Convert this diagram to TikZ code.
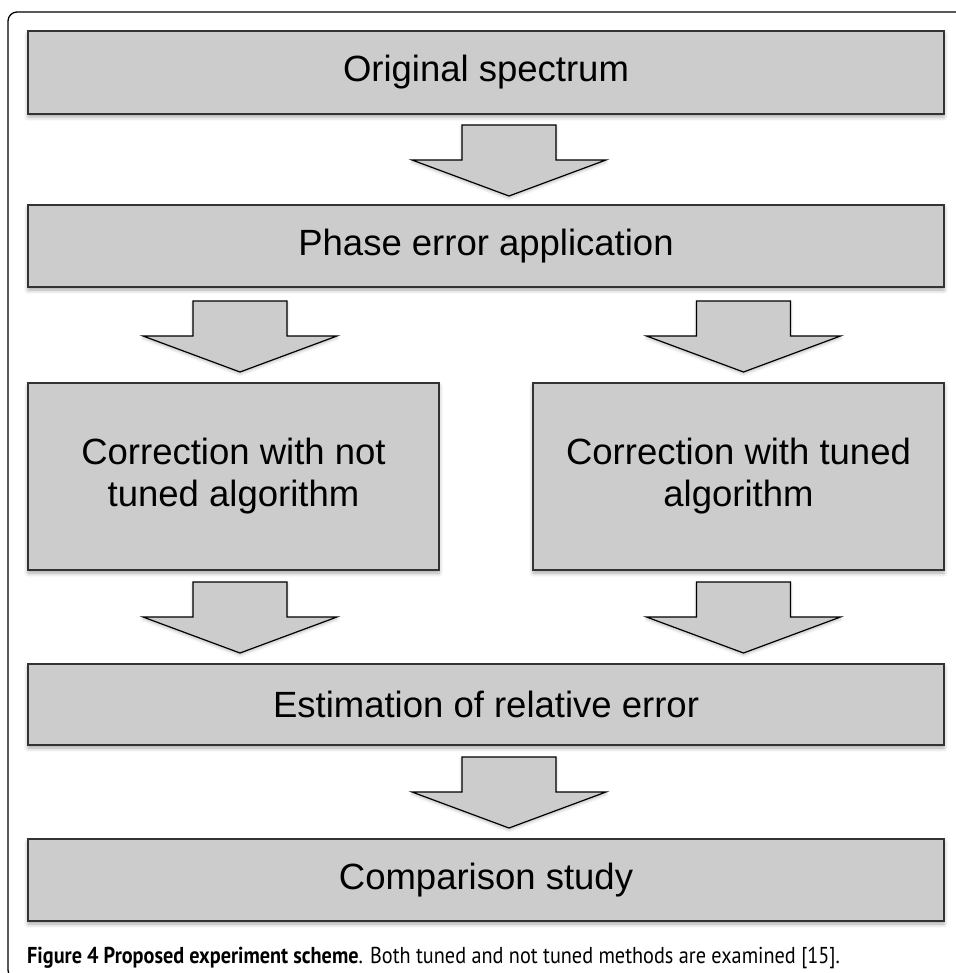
\documentclass[tikz,border=0pt]{standalone}
\usepackage{fontspec}
\setmainfont{Liberation Sans}
\newfontfamily\capfont[FakeStretch=0.88]{PT Sans}
\usetikzlibrary{shadows.blur}
\begin{document}
\begin{tikzpicture}[x=1pt,y=-1pt,
    stage/.style={draw=black!80,line width=1.8pt,fill=black!20,inner sep=0pt,align=center,
        font=\fontsize{36.5}{42}\selectfont,
        blur shadow={shadow xshift=0pt,shadow yshift=-3pt,shadow blur radius=4pt,shadow opacity=35}},
    wide/.style={stage,minimum width=916pt,minimum height=82pt},
    half/.style={stage,minimum width=411pt,minimum height=187pt},
    blockarrow/.style={draw=black,line width=1.2pt,fill=black!20,line join=miter,
        blur shadow={shadow xshift=0pt,shadow yshift=-2pt,shadow blur radius=3pt,shadow opacity=25}},
    pics/down/.style={code={
        \draw[blockarrow] (-47,0) -- (47,0) -- (47,35) -- (97,35) -- (0,71)
            -- (-97,35) -- (-47,35) -- cycle;}}]
    \useasboundingbox (0,0) rectangle (955,973);
    \draw[line width=1.3pt,rounded corners=9pt] (8,12) rectangle (975,979);
    \node[wide,minimum height=83pt] (B_0) at (486,72.5) {Original spectrum};
    \node[wide] (B_1) at (486,246) {Phase error application};
    \node[half] (B_2) at (233.5,476.5) {Correction with not\\tuned algorithm};
    \node[half] (B_3) at (738.5,476.5) {Correction with tuned\\algorithm};
    \node[wide,minimum height=81pt] (B_4) at (486,704.5) {Estimation of relative error};
    \node[wide] (B_5) at (486,880) {Comparison study};
    \pic (A_0) at (509,125) {down};
    \pic (A_1) at (240,301) {down};
    \pic (A_2) at (743.5,301) {down};
    \pic (A_3) at (240,582) {down};
    \pic (A_4) at (743.5,582) {down};
    \pic (A_5) at (509,757) {down};
    \node[anchor=base west,inner sep=0pt,font=\capfont\fontsize{23}{26}\selectfont] (caption) at (27,963)
        {\textbf{Figure 4 Proposed experiment scheme}. Both tuned and not tuned methods are examined [15].};
\end{tikzpicture}
\end{document}
